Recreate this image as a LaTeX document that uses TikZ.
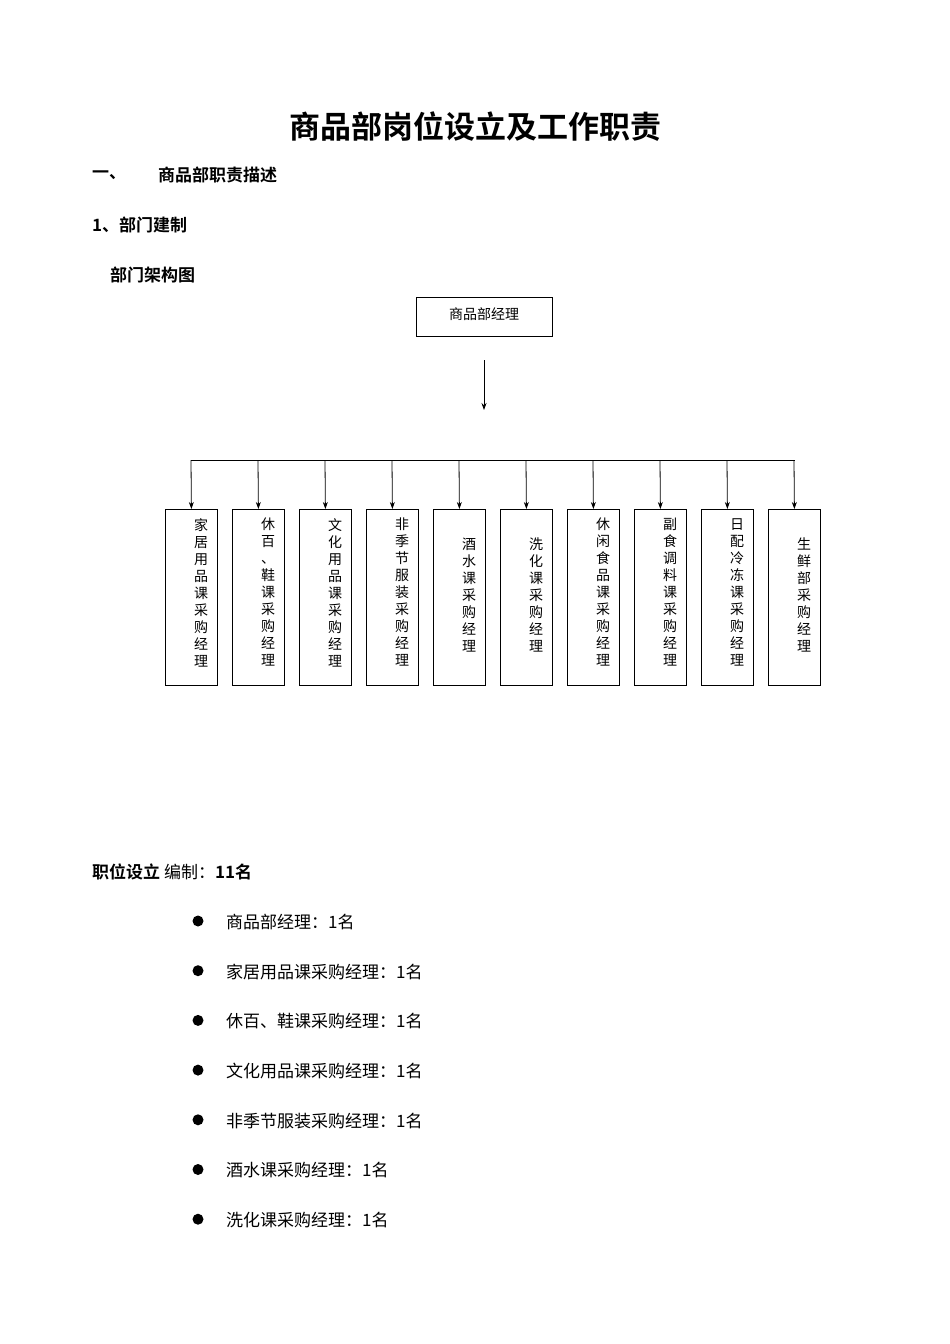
\documentclass[tikz,border=0pt]{standalone}
\usepackage{fontspec}
\usetikzlibrary{arrows.meta}
\setmainfont{Noto Sans CJK SC}
\newfontfamily\cjkb{Noto Sans CJK SC Bold}
\begin{document}
\begin{tikzpicture}[x=1pt,y=-1pt,
  box/.style={draw,line width=0.8pt,minimum width=52pt,minimum height=176pt,anchor=north west,inner sep=0},
  vt/.style={anchor=north,font=\fontsize{14}{17}\selectfont,align=center,inner sep=0},
  arr/.style={-{Stealth[length=7pt,width=5pt]},line width=0.8pt},
  bt/.style={anchor=west,font=\fontsize{17}{20}\selectfont,inner sep=0}]
\useasboundingbox[fill=white] (0,0) rectangle (950,1344);
\node[font=\cjkb\fontsize{31}{36}\selectfont] (title) at (475,127) {商品部岗位设立及工作职责};
\node[bt,font=\cjkb\fontsize{17}{20}\selectfont] (h1) at (92,175) {一、};
\node[bt,font=\cjkb\fontsize{17}{20}\selectfont] (h1b) at (158,175) {商品部职责描述};
\node[bt,font=\cjkb\fontsize{17}{20}\selectfont] (h2) at (92,225) {1、部门建制};
\node[bt,font=\cjkb\fontsize{17}{20}\selectfont] (h3) at (110,275) {部门架构图};
\node[draw,line width=0.8pt,minimum width=136pt,minimum height=39pt,font=\fontsize{14}{17}\selectfont] (top) at (484,316.5) {\raisebox{6pt}{商品部经理}};
\coordinate (a1) at (484,360);
\coordinate (a2) at (484,410);
\draw[arr] (a1) -- (a2);
\coordinate (hl) at (191,460);
\coordinate (hr) at (795,460);
\draw[line width=0.8pt] (hl) -- (hr);
\foreach \i/\t/\ty in {0/家\\居\\用\\品\\课\\采\\购\\经\\理/518,
  1/休\\百\\、\\鞋\\课\\采\\购\\经\\理/518,
  2/文\\化\\用\\品\\课\\采\\购\\经\\理/518,
  3/非\\季\\节\\服\\装\\采\\购\\经\\理/518,
  4/酒\\水\\课\\采\\购\\经\\理/538,
  5/洗\\化\\课\\采\\购\\经\\理/538,
  6/休\\闲\\食\\品\\课\\采\\购\\经\\理/518,
  7/副\\食\\调\\料\\课\\采\\购\\经\\理/518,
  8/日\\配\\冷\\冻\\课\\采\\购\\经\\理/518,
  9/生\\鲜\\部\\采\\购\\经\\理/538}{
  \node[box] (b\i) at (165+67*\i,509) {};
  \node[vt] (t\i) at (201+67*\i,\ty) {\t};
  \coordinate (c\i) at (191+67*\i,460);
  \draw[arr] (c\i) -- (b\i.north);
}
\node[bt] (z) at (92,872) {{\cjkb 职位设立} 编制：{\cjkb 11名}};
\foreach \i/\t in {0/商品部经理：1名,1/家居用品课采购经理：1名,2/休百、鞋课采购经理：1名,3/文化用品课采购经理：1名,4/非季节服装采购经理：1名,5/酒水课采购经理：1名,6/洗化课采购经理：1名}{
  \node[circle,fill=black,minimum size=11pt,inner sep=0] (d\i) at (198,{921+49.7*\i}) {};
  \node[bt] (l\i) at (226,{922+49.7*\i}) {\t};
}
\end{tikzpicture}
\end{document}
